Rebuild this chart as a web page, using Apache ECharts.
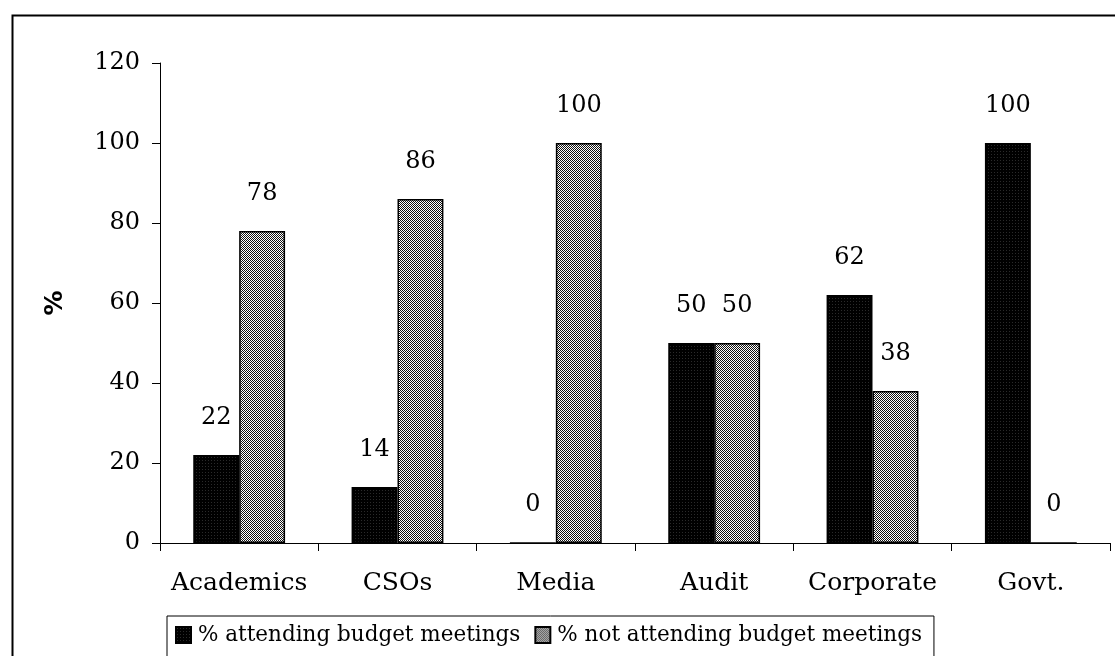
<!DOCTYPE html>
<html>
<head>
<meta charset="utf-8">
<style>html,body{margin:0;padding:0;background:#fff;}#c{width:1115px;height:656px;}</style>
<script src="https://cdn.jsdelivr.net/npm/echarts@6/dist/echarts.min.js"></script>
</head>
<body>
<div id="c"></div>
<script>
var categories = ['Academics', 'CSOs', 'Media', 'Audit', 'Corporate', 'Govt.'];
var attending = [22, 14, 0, 50, 62, 100];
var notAttending = [78, 86, 100, 50, 38, 0];
var seriesNames = ['% attending budget meetings', '% not attending budget meetings'];

function makePattern(kind) {
  var c = document.createElement('canvas');
  var ctx = c.getContext('2d');
  if (kind === 'dark') {
    c.width = 3; c.height = 3;
    ctx.fillStyle = '#000'; ctx.fillRect(0, 0, 3, 3);
    ctx.fillStyle = '#2a2a2a'; ctx.fillRect(1, 1, 1, 1);
  } else {
    c.width = 2; c.height = 2;
    ctx.fillStyle = '#fff'; ctx.fillRect(0, 0, 2, 2);
    ctx.fillStyle = '#111'; ctx.fillRect(0, 0, 1, 1); ctx.fillRect(1, 1, 1, 1);
  }
  return { image: c, repeat: 'repeat' };
}

var serif = 'DejaVu Serif';

var chart = echarts.init(document.getElementById('c'));
chart.setOption({
  animation: false,
  backgroundColor: '#fff',
  graphic: [{
    type: 'rect', left: 10, top: 13, shape: { width: 1200, height: 700 },
    style: { fill: 'none', stroke: '#000', lineWidth: 2 }, silent: true, z: -1
  }],
  grid: { left: 160, right: 5, top: 63, bottom: 113 },
  legend: {
    left: 167, top: 616,
    icon: 'rect',
    itemWidth: 15, itemHeight: 16, itemGap: 14,
    padding: [8, 12, 20, 8],
    borderColor: '#000', borderWidth: 1,
    textStyle: { fontFamily: serif, fontSize: 21.5, color: '#000', padding: [0, 0, 0, 2] },
    data: seriesNames
  },
  xAxis: {
    type: 'category', data: categories,
    axisLine: { lineStyle: { color: '#000', width: 1 } },
    axisTick: { show: true, interval: 0, length: 8, lineStyle: { color: '#000' } },
    axisLabel: { interval: 0, margin: 28, fontFamily: serif, fontSize: 25, color: '#000' }
  },
  yAxis: {
    type: 'value', min: 0, max: 120, interval: 20,
    name: '%', nameLocation: 'middle', nameGap: 92, nameRotate: 90,
    nameTextStyle: { fontFamily: 'DejaVu Sans', fontWeight: 'bold', fontSize: 25, color: '#000' },
    axisLine: { show: true, lineStyle: { color: '#000', width: 1 } },
    axisTick: { show: true, length: 8, inside: false, lineStyle: { color: '#000' } },
    splitLine: { show: false },
    axisLabel: { margin: 20, fontFamily: serif, fontSize: 24, color: '#000' }
  },
  series: [
    {
      name: seriesNames[0], type: 'bar', barGap: '0%', barCategoryGap: '42%',
      data: attending,
      itemStyle: { color: makePattern('dark'), borderColor: '#000', borderWidth: 1.5 },
      label: { show: true, position: 'top', distance: 25, fontFamily: serif, fontSize: 24, color: '#000' }
    },
    {
      name: seriesNames[1], type: 'bar', barGap: '0%', barCategoryGap: '42%',
      data: notAttending,
      itemStyle: { color: makePattern('grey'), borderColor: '#000', borderWidth: 1.5 },
      label: { show: true, position: 'top', distance: 25, fontFamily: serif, fontSize: 24, color: '#000' }
    }
  ]
});
</script>
</body>
</html>
